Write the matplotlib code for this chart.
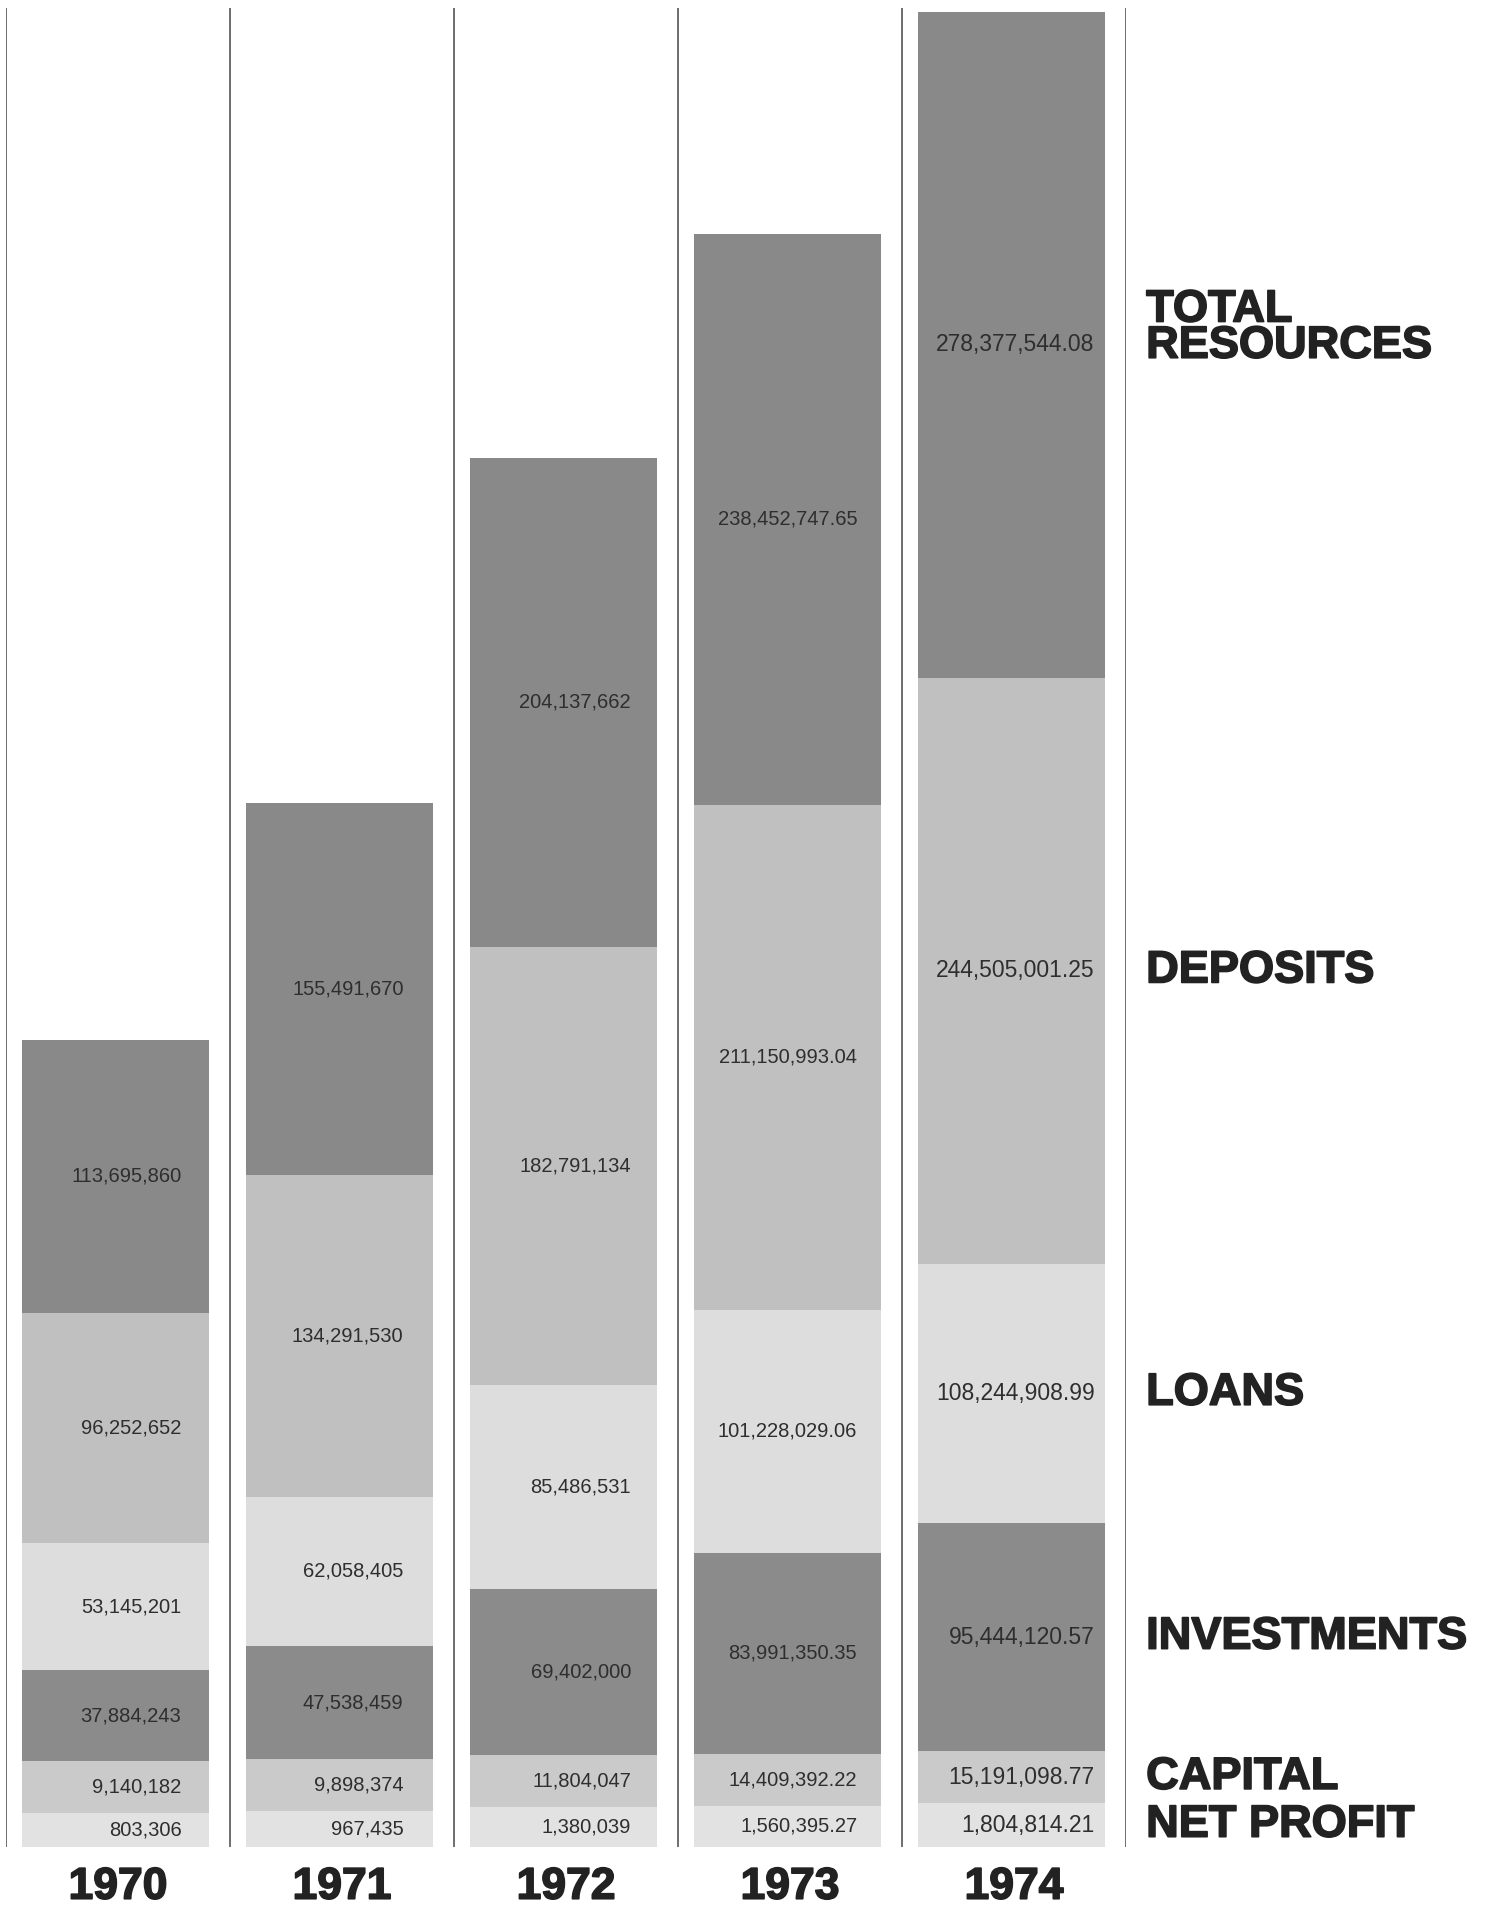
import matplotlib
matplotlib.use("Agg")
import matplotlib.pyplot as plt
import matplotlib.patheffects as pe
import numpy as np

# ---------------- data (values in dollars) ----------------
years = ["1970", "1971", "1972", "1973", "1974"]
series_names = ["TOTAL RESOURCES", "DEPOSITS", "LOANS", "INVESTMENTS", "CAPITAL", "NET PROFIT"]
total_resources = [113695860, 155491670, 204137662, 238452747.65, 278377544.08]
deposits = [96252652, 134291530, 182791134, 211150993.04, 244505001.25]
loans = [53145201, 62058405, 85486531, 101228029.06, 108244908.99]
investments = [37884243, 47538459, 69402000, 83991350.35, 95444120.57]
capital = [9140182, 9898374, 11804047, 14409392.22, 15191098.77]
net_profit = [803306, 967435, 1380039, 1560395.27, 1804814.21]

# ---------------- style ----------------
colors = {
    "TOTAL RESOURCES": "#898989",
    "DEPOSITS": "#c0c0c0",
    "LOANS": "#dddddd",
    "INVESTMENTS": "#8b8b8b",
    "CAPITAL": "#cacaca",
    "NET PROFIT": "#e2e2e2",
}
VAL_FONT = "Liberation Sans"
BOLD_FONT = "Liberation Sans"
label_offsets = [0.283, 0.275, 0.29, 0.30, 0.36]
label_sizes = [14.5, 14.5, 14.5, 14.5, 16.5]

fig = plt.figure(figsize=(14.95, 19.07), dpi=100)
fig.patch.set_facecolor("white")
ax = fig.add_axes([6 / 1495, 60 / 1907, 1120 / 1495, 1839 / 1907])
ax.set_xlim(-0.5, 4.5)
ax.set_ylim(0, 768.0)
ax.axis("off")

# column separator lines
for xl in np.arange(-0.5, 5.0, 1.0):
    ax.axvline(xl, color="#6e6e6e", lw=1.4, zorder=1)

M = 1e6
# The original draws the two tiny series as fixed-legibility bands
def band_capital(v):
    return max(v / M, 21.7)

def band_profit(v):
    return 11.0 + 4.0 * v / M

stack_order = [
    ("NET PROFIT", net_profit, band_profit),
    ("CAPITAL", capital, band_capital),
    ("INVESTMENTS", investments, lambda v: v / M),
    ("LOANS", loans, lambda v: v / M),
    ("DEPOSITS", deposits, lambda v: v / M),
    ("TOTAL RESOURCES", total_resources, lambda v: v / M),
]

x = np.arange(len(years))
width = 0.835
bar_shift = -0.01
bottoms = np.zeros(len(years))
centers_1974 = {}
for name, vals, fn in stack_order:
    h = np.array([fn(v) for v in vals])
    ax.bar(x + bar_shift, h, width=width, bottom=bottoms, color=colors[name],
           edgecolor="none", zorder=2)
    for i, v in enumerate(vals):
        yc = bottoms[i] + h[i] / 2
        txt = f"{v:,.2f}" if int(years[i]) >= 1973 else f"{v:,.0f}"
        ax.text(x[i] + label_offsets[i], yc, txt, ha="right", va="center",
                fontsize=label_sizes[i], color="#2e2e2e", family=VAL_FONT,
                zorder=3)
    centers_1974[name] = bottoms[-1] + h[-1] / 2
    bottoms = bottoms + h

# year labels
stroke = [pe.withStroke(linewidth=1.2, foreground="#222222")]
for i, yr in enumerate(years):
    ax.text(x[i], -16.8, yr, ha="center", va="center", fontsize=32,
            fontweight="bold", family=BOLD_FONT, color="#222222",
            clip_on=False, path_effects=stroke)

# series labels at right, aligned with the 1974 bar
right_text = {"TOTAL RESOURCES": "TOTAL\nRESOURCES"}
for name in series_names:
    yc = centers_1974[name]
    if name == "TOTAL RESOURCES":
        yc += 7.0
    ax.text(4.59, yc, right_text.get(name, name), ha="left", va="center",
            fontsize=32.5, fontweight="bold", family=BOLD_FONT,
            color="#222222", linespacing=0.85, clip_on=False,
            path_effects=stroke)

fig.savefig("out.png", dpi=100, facecolor="white")
